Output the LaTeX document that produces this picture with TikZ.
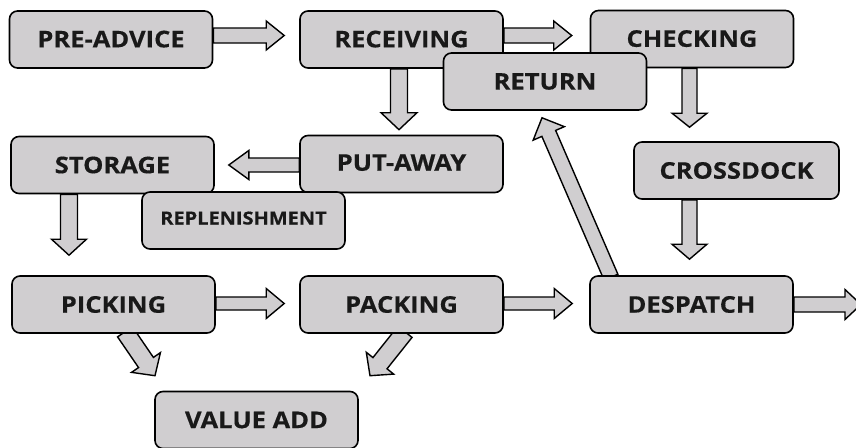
\documentclass[tikz,border=0pt]{standalone}
\usepackage{fontspec}
\setmainfont{Open Sans}
\newfontfamily\boxfont[FakeStretch=1.11, BoldFeatures={FakeBold=0.4}]{Open Sans}
\usetikzlibrary{calc,backgrounds}
\definecolor{boxgray}{RGB}{208,206,208}

% block arrow: start, tip, shaft half-width, head half-width, head length
\newcommand\blockarrow[5]{%
  \coordinate (ba-s) at #1;
  \coordinate (ba-e) at #2;
  \coordinate (ba-h) at ($(ba-e)!#5!(ba-s)$);
  \draw[arrowbody]
    ($(ba-s)!#3!90:(ba-e)$) -- ($(ba-h)!#3!90:(ba-e)$) --
    ($(ba-h)!#4!90:(ba-e)$) -- (ba-e) --
    ($(ba-h)!#4!-90:(ba-e)$) -- ($(ba-h)!#3!-90:(ba-e)$) --
    ($(ba-s)!#3!-90:(ba-e)$) -- cycle;%
}

\begin{document}
\begin{tikzpicture}[x=1pt,y=-1pt,
  box/.style={draw=black, fill=boxgray, line width=1.6pt, rounded corners=8pt,
    minimum width=203pt, minimum height=57pt, inner sep=0pt,
    font=\boxfont\fontsize{23}{26}\selectfont\bfseries, text=black!90},
  smallbox/.style={box, font=\boxfont\fontsize{18}{21}\selectfont\bfseries},
  arrowbody/.style={draw=black, fill=boxgray, line width=1.4pt, line join=miter}]
\useasboundingbox (0,0) rectangle (856,447);

% process steps (later boxes overlap earlier ones)
\node[box] (pre) at (111,39.5) {\raisebox{1pt}{PRE-ADVICE}};
\node[box] (rec) at (401.5,39.5) {\raisebox{1pt}{RECEIVING}};
\node[box] (chk) at (692,39) {\raisebox{1pt}{CHECKING}};
\node[box] (ret) at (545,81.5) {RETURN};
\node[box] (put) at (401.5,164) {\raisebox{3pt}{PUT-AWAY}};
\node[box] (sto) at (112.5,165) {STORAGE};
\node[smallbox] (rep) at (243.5,220.5) {\raisebox{5pt}{REPLENISHMENT}};
\node[box, minimum width=205pt] (cro) at (736.5,170.5) {CROSSDOCK};
\node[box] (pic) at (113.5,304.5) {PICKING};
\node[box] (pac) at (401.5,304.5) {PACKING};
\node[box] (des) at (691.5,304.5) {DESPATCH};
\node[box] (val) at (256.5,420) {VALUE ADD};
\coordinate (out) at (861,304.5);

% flow arrows, kept beneath the boxes
\begin{scope}[on background layer]
\blockarrow{($(pre.east)+(0,-4)$)}{($(rec.west)+(-15,-4)$)}{7.5pt}{14.5pt}{18pt}
\blockarrow{($(rec.east)+(0,-4)$)}{($(chk.west)+(-18,-3.5)$)}{7.5pt}{14.5pt}{18pt}
\blockarrow{($(rec.south)+(-2.5,0)$)}{($(put.north)+(-2.5,-5)$)}{8.5pt}{18pt}{17pt}
\blockarrow{($(chk.south)+(-2.5,0)$)}{($(cro.north)+(-47,-14)$)}{7.5pt}{17.5pt}{14pt}
\blockarrow{($(put.west)+(0,1)$)}{($(sto.east)+(14,0)$)}{7pt}{14.5pt}{20pt}
\blockarrow{($(sto.south)+(-43.5,0)$)}{($(pic.north)+(-44.5,-20)$)}{8.5pt}{17.5pt}{16pt}
\blockarrow{($(cro.south)+(-47,0)$)}{($(des.north)+(-2,-16)$)}{7.5pt}{17.5pt}{15pt}
\blockarrow{($(pic.east)+(0,-1)$)}{($(pac.west)+(-15,-1)$)}{6.5pt}{15pt}{18pt}
\blockarrow{($(pac.east)+(0,-1)$)}{($(des.west)+(-17,-1)$)}{6.5pt}{15pt}{18pt}
\blockarrow{(des.east)}{(out)}{7.5pt}{15pt}{16pt}
\blockarrow{($(des.north)+(-80.5,2)$)}{($(ret.south)+(-3,7)$)}{7.5pt}{17pt}{17pt}
\blockarrow{($(pic.south)+(11.5,-2)$)}{($(val.north)+(-101.5,-15)$)}{9pt}{17.5pt}{16pt}
\blockarrow{($(pac.south)+(3.5,-2)$)}{($(val.north)+(113.5,-15)$)}{9pt}{17.5pt}{16pt}
\end{scope}
\end{tikzpicture}
\end{document}
